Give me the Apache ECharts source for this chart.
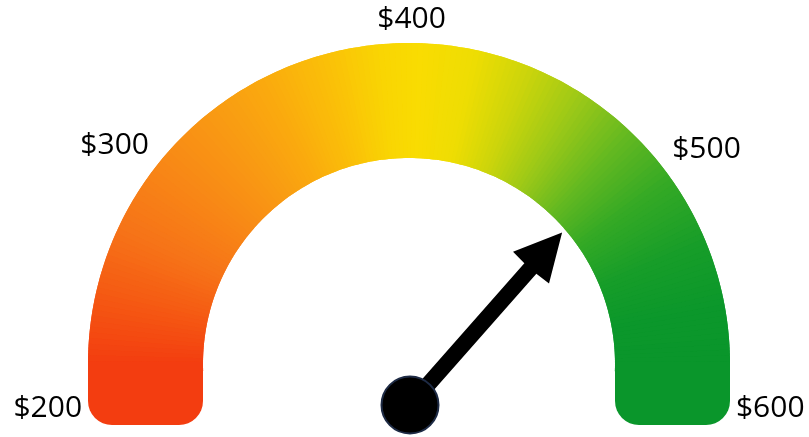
<!DOCTYPE html>
<html>
<head>
<meta charset="utf-8">
<title>gauge</title>
<script src="https://cdn.jsdelivr.net/npm/echarts@6/dist/echarts.min.js"></script>
<style>
  html, body { margin: 0; padding: 0; background: #fff; }
  #chart { width: 809px; height: 437px; }
</style>
</head>
<body>
<div id="chart"></div>
<script>
// data
const tickValues = [200, 300, 400, 500, 600]
const tickLabels = ['$200', '$300', '$400', '$500', '$600']
const needleValue = [492]

// colour stops along the arc (angle in degrees, 180 = left end, 0 = right end)
const arcColorStops = [
  [180, '#F33D10'], [167, '#F55A13'], [155, '#F67318'], [142, '#F88616'],
  [128, '#F99A13'], [117, '#FAAA0E'], [105, '#FAC108'], [95, '#F9D503'],
  [88, '#F9DC02'], [78, '#EEDD03'], [68, '#CCD50B'], [57, '#9AC818'],
  [46, '#62B821'], [35, '#34A925'], [22, '#169D29'], [10, '#0B972B'], [0, '#0A962B'],
]

// layout
const CX = 409
const CY = 364
const R_OUT = 321
const BAND = 115
const LEG_BOTTOM = 425
const ARC_START = 182
const ARC_END = -2

const minV = tickValues[0]
const maxV = tickValues[tickValues.length - 1]
const step = tickValues[1] - tickValues[0]

function hex(c) {
  return [1, 3, 5].map(i => parseInt(c.slice(i, i + 2), 16))
}
function colorAt(deg) {
  deg = Math.max(0, Math.min(180, deg))
  for (let i = 0; i < arcColorStops.length - 1; i++) {
    const [a0, c0] = arcColorStops[i]
    const [a1, c1] = arcColorStops[i + 1]
    if (deg <= a0 && deg >= a1) {
      const t = (a0 - deg) / (a0 - a1)
      const p = hex(c0), q = hex(c1)
      return 'rgb(' + p.map((v, k) => Math.round(v + (q[k] - v) * t)).join(',') + ')'
    }
  }
  return arcColorStops[arcColorStops.length - 1][1]
}
// split the band into thin sectors so the colour changes smoothly round the arc
function bandColors(n, shift) {
  const ends = []
  for (let k = 1; k <= n; k++) ends.push((k - shift) / n)
  if (shift) ends.push(1)
  let prev = 0
  return ends.map(f => {
    const mid = (prev + f) / 2
    prev = f
    return [f, colorAt(ARC_START - (ARC_START - ARC_END) * mid)]
  })
}

function arcLayer(colors) {
  return {
    type: 'gauge',
    center: [CX, CY],
    radius: R_OUT,
    startAngle: ARC_START,
    endAngle: ARC_END,
    min: 0,
    max: 1,
    axisLine: { lineStyle: { width: BAND, color: colors } },
    splitLine: { show: false },
    axisTick: { show: false },
    axisLabel: { show: false },
    pointer: { show: false },
    anchor: { show: false },
    title: { show: false },
    detail: { show: false },
    data: [],
  }
}

// the end labels and the middle labels sit on two angle axes round the same centre
function labelAxis(polarIndex, startAngle, span, shown) {
  return {
    polarIndex,
    type: 'value',
    min: minV,
    max: minV + (maxV - minV) * 360 / span,
    interval: step,
    startAngle,
    clockwise: true,
    axisLine: { show: false },
    axisTick: { show: false },
    splitLine: { show: false },
    axisLabel: {
      margin: 9,
      color: '#000',
      fontSize: 30,
      fontFamily: 'Open Sans',
      formatter: (v) => {
        const i = tickValues.indexOf(v)
        return shown.includes(v) ? tickLabels[i] : ''
      },
    },
  }
}

const chart = echarts.init(document.getElementById('chart'))
const option = {
  animation: false,
  backgroundColor: '#fff',
  polar: [
    { center: [CX, CY], radius: R_OUT },
    { center: [CX, CY], radius: R_OUT },
  ],
  radiusAxis: [
    { polarIndex: 0, show: false },
    { polarIndex: 1, show: false },
  ],
  angleAxis: [
    labelAxis(0, 187.8, 195.6, [tickValues[0], tickValues[4]]),
    labelAxis(1, 194.45, 209.8, [tickValues[1], tickValues[2], tickValues[3]]),
  ],
  graphic: [
    {
      type: 'rect',
      z: 100,
      shape: { x: CX - R_OUT, y: CY, width: BAND, height: LEG_BOTTOM - CY, r: [0, 0, 24, 24] },
      style: { fill: colorAt(180) },
    },
    {
      type: 'rect',
      z: 100,
      shape: { x: CX + R_OUT - BAND, y: CY, width: BAND, height: LEG_BOTTOM - CY, r: [0, 0, 24, 24] },
      style: { fill: colorAt(0) },
    },
  ],
  series: [
    arcLayer(bandColors(180, 0)),
    arcLayer(bandColors(180, 0.5)),
    {
      // needle
      type: 'gauge',
      center: [410, 405],
      radius: 230,
      startAngle: 180,
      endAngle: 0,
      min: minV,
      max: maxV,
      axisLine: { show: false },
      splitLine: { show: false },
      axisTick: { show: false },
      axisLabel: { show: false },
      pointer: {
        icon: 'path://M24 0 L48 47 L32 48 L32 230 L16 230 L16 48 L0 47 Z',
        length: 230,
        width: 48,
        offsetCenter: [0, 0],
        itemStyle: { color: '#000' },
      },
      anchor: {
        show: true,
        showAbove: true,
        size: 57,
        itemStyle: { color: '#000', borderColor: '#1E2B45', borderWidth: 2 },
      },
      title: { show: false },
      detail: { show: false },
      data: needleValue.map(v => ({ value: v })),
    },
  ],
}
chart.setOption(option)
</script>
</body>
</html>
